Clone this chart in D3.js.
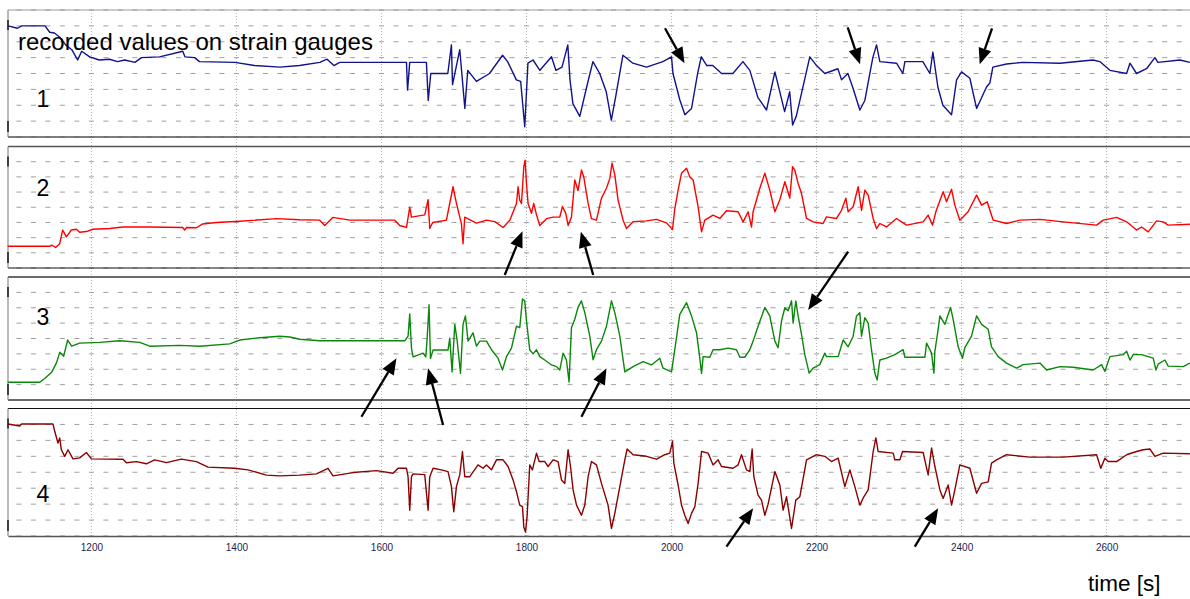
<!DOCTYPE html>
<html>
<head>
<meta charset="utf-8">
<script src="https://cdn.jsdelivr.net/npm/d3@7"></script>
<style>
  body { margin: 0; background: #fff; }
  svg { display: block; font-family: "Liberation Sans", Arial, sans-serif; }
</style>
</head>
<body>
<svg id="chart" width="1190" height="599"></svg>
<script>
// recorded strain gauge values, [time s, value in grid units 0..8]
const gauge1 = [[1085,7.0],[1098,6.85],[1104,7.0],[1129,7.0],[1136,7.0],[1142.5,6.6],[1149,6.55],[1156,6.3],[1164.5,5.8],[1173,5.5],
  [1181,4.85],[1186.6,5.4],[1197.6,5.05],[1211,4.85],[1225,4.9],[1236,4.75],[1246,4.85],[1260,4.7],[1269,5.0],[1294,5.05],
  [1326,5.4],[1329,5.05],[1342.5,5.0],[1349,4.75],[1398,4.7],[1425,4.5],[1460,4.4],[1487,4.5],[1515,4.7],[1525,4.9],
  [1534.5,4.5],[1542.5,4.7],[1597.6,4.7],[1634.5,4.7],[1636,2.95],[1639,4.7],[1662,4.7],[1664.5,2.3],[1668,4.0],[1691.5,4.0],
  [1696.5,5.8],[1698,3.3],[1708,5.5],[1715,1.8],[1719,4.2],[1731,3.5],[1749,4.0],[1767,5.15],[1774,4.75],[1786,3.6],
  [1792,3.5],[1797.6,0.65],[1802,4.65],[1809,4.85],[1818.5,4.2],[1834.5,5.05],[1840.5,4.2],[1849,4.4],[1857,5.8],[1860,3.6],
  [1864,2.1],[1873.5,1.3],[1883,3.15],[1891.6,4.75],[1901,4.0],[1910,2.85],[1917,1.07],[1923,2.55],[1933,5.15],[1946.7,4.65],
  [1965.5,4.4],[1988,4.75],[2000,5.05],[2002,4.0],[2011.5,2.33],[2018.5,1.4],[2027.6,1.8],[2036,4.0],[2041,5.05],[2048.7,4.5],
  [2057,4.5],[2069,4.0],[2084.6,4.0],[2098.5,4.75],[2108,4.2],[2119,2.5],[2131,1.7],[2142.6,4.1],[2156,1.6],[2163,2.85],
  [2167,0.75],[2172,1.3],[2190.7,5.05],[2200,4.5],[2211.4,4.0],[2229.4,4.3],[2234.5,3.6],[2243.2,4.0],[2250.1,3.1],[2259.7,1.7],
  [2266.6,2.3],[2277.6,5.0],[2282.7,5.8],[2287.3,4.75],[2310.3,4.65],[2319,4.0],[2321.8,4.75],[2346.6,4.75],[2356.3,4.0],[2360.4,5.35],
  [2367.3,3.15],[2374.2,2.0],[2386.2,1.4],[2393.1,3.6],[2400,4.1],[2411.4,3.7],[2420.7,1.8],[2434.4,3.15],[2439,3.4],[2443.1,4.4],
  [2462,4.6],[2484.5,4.7],[2535.6,4.65],[2581.1,4.85],[2590.7,4.75],[2604.5,4.2],[2627.6,4.0],[2632.2,4.65],[2641.3,4.0],[2655.1,4.3],
  [2666.6,5.0],[2670.8,4.7],[2701.1,4.85],[2714.8,4.7]];

const gauge2 = [[1084.5,1.43],[1142.5,1.43],[1145.2,1.5],[1150.7,1.35],[1156.3,1.6],[1160.4,2.5],[1165.5,2.05],[1172.4,2.5],[1179.3,2.55],[1183.8,2.35],
  [1193.1,2.4],[1201.8,2.55],[1225.2,2.6],[1243.2,2.7],[1280.4,2.7],[1325.9,2.67],[1328.7,2.5],[1331.4,2.67],[1344.8,2.65],[1353.5,2.9],
  [1372.4,3.0],[1404.5,3.08],[1455.2,3.25],[1487.3,3.18],[1514.9,3.15],[1521.8,2.8],[1532.8,3.33],[1556.3,3.15],[1597.6,3.15],[1618.3,3.15],
  [1625.2,2.8],[1634.5,2.67],[1639,4.0],[1641.4,3.35],[1659.7,3.5],[1664.3,4.5],[1666.6,2.6],[1670.7,3.0],[1689.6,3.15],[1698.7,5.35],
  [1703.4,4.25],[1710.3,2.9],[1712.5,1.6],[1714.9,3.35],[1731,2.95],[1744.8,3.15],[1756.3,3.05],[1767.7,2.67],[1777,3.15],[1786.2,4.25],
  [1788.4,5.35],[1790.7,4.47],[1793.1,4.25],[1796.3,6.67],[1798.1,7.1],[1800,5.55],[1802.2,4.25],[1806.9,3.6],[1810,4.25],[1813.8,3.5],
  [1818.3,2.8],[1827.6,3.25],[1836.7,3.35],[1845.9,3.35],[1849.6,4.05],[1854.2,3.6],[1857.4,2.8],[1862,3.35],[1866.6,5.8],[1871.1,5.1],
  [1875.8,6.45],[1879,6.0],[1885,4.25],[1889.6,3.25],[1896.5,3.15],[1903.4,4.6],[1910.3,5.25],[1914.9,5.9],[1918,6.9],[1921.8,6.13],
  [1926.3,4.47],[1933.2,3.15],[1937.9,2.6],[1947,3.05],[1965.5,3.1],[1979.3,3.2],[1993.1,2.97],[2001.4,2.54],[2004.5,3.9],[2009.1,5.13],
  [2013.8,6.24],[2020.7,6.57],[2025.2,6.0],[2029.8,5.8],[2036.7,4.03],[2041.4,2.38],[2045.9,3.15],[2057.3,3.48],[2066.6,3.26],[2075.8,3.77],
  [2091.8,3.7],[2098.7,3.04],[2105.7,3.7],[2110.3,2.7],[2112.5,3.7],[2121.8,5.25],[2128.7,6.24],[2135.5,5.13],[2142.5,3.7],[2149.4,4.5],
  [2156.3,5.68],[2163.1,4.6],[2166.9,6.67],[2170,6.45],[2174.6,5.57],[2179.2,4.92],[2186.2,3.26],[2195.3,3.04],[2209,2.93],[2213.7,3.37],
  [2227.5,3.26],[2234.4,3.8],[2240.4,4.6],[2243.6,3.7],[2250.5,4.03],[2257.4,5.35],[2262,3.8],[2266.6,5.13],[2271.2,4.8],[2278.1,3.26],
  [2282.7,2.6],[2287.3,2.93],[2296.5,2.7],[2310.3,3.26],[2324.1,2.82],[2347,3.04],[2353.9,3.48],[2360,2.82],[2364.5,3.7],[2374.6,5.02],
  [2379.3,4.36],[2386.2,5.18],[2390.7,4.14],[2397.6,3.15],[2409,3.7],[2420.7,4.8],[2427.6,4.14],[2435.3,4.36],[2443.6,3.15],[2462,2.93],
  [2480.4,3.15],[2508,3.2],[2540.1,3.04],[2586.2,2.82],[2595.3,3.15],[2613.8,3.33],[2627.6,3.04],[2641.3,2.5],[2648.2,2.7],[2657.4,2.38],
  [2668.9,3.1],[2678,3.04],[2684.9,2.82],[2714.8,2.88]];

const gauge3 = [[1084.5,1.15],[1128.7,1.15],[1135.6,1.4],[1145.2,1.8],[1152.1,2.45],[1156.3,3.1],[1161.8,2.85],[1167.3,3.9],[1172.8,3.5],[1183.8,3.7],
  [1211.4,3.75],[1239,3.85],[1266.6,3.75],[1280.4,3.5],[1321.8,3.55],[1349.4,3.5],[1390.7,3.65],[1404.5,3.9],[1432.1,4.05],[1459.7,4.15],
  [1473.5,4.1],[1487.3,3.95],[1514.9,3.85],[1542.5,3.85],[1632.1,3.85],[1636.7,4.15],[1639,5.6],[1641.4,3.37],[1643.6,2.8],[1657.4,3.05],
  [1661.1,2.8],[1662.9,3.9],[1665.6,6.2],[1667.6,2.7],[1671.2,3.25],[1691.8,3.25],[1694.2,4.02],[1697.4,1.83],[1701.1,4.92],[1704.3,3.9],
  [1709,1.73],[1712.5,4.92],[1715.8,5.47],[1719.4,3.83],[1726.3,4.37],[1731,3.5],[1735.6,3.83],[1744.8,3.83],[1751.7,3.27],[1760.8,2.72],
  [1766.9,1.95],[1772.4,2.82],[1779.3,3.37],[1786.2,4.8],[1790.7,4.7],[1794.5,6.57],[1797.6,6.45],[1800,5.15],[1804.5,3.27],[1809.1,3.0],
  [1813.8,3.27],[1818.3,2.82],[1825.2,2.6],[1834.5,2.28],[1841.4,2.17],[1845.9,1.95],[1850.5,3.05],[1855.1,2.6],[1858.7,1.17],[1862,4.7],
  [1866.6,5.25],[1871.1,6.02],[1875.8,6.45],[1880.4,5.68],[1887.3,4.15],[1891.8,2.62],[1896.5,3.27],[1903.4,3.83],[1910.3,4.8],[1917.2,6.45],
  [1921.8,5.68],[1928.7,4.15],[1935.6,1.83],[1947,2.17],[1960.8,2.5],[1972.4,2.28],[1983.8,2.72],[1988.4,2.07],[2000,1.83],[2004.5,3.27],
  [2011.4,5.57],[2020.7,6.33],[2027.6,5.47],[2034.5,4.37],[2039,2.72],[2041.4,1.73],[2043.6,2.82],[2052.8,2.78],[2057.3,3.27],[2066.6,3.27],
  [2078,3.37],[2089.6,3.27],[2094.2,2.78],[2101.1,2.78],[2108,3.27],[2112.5,3.83],[2119.4,4.8],[2128.7,6.02],[2135.5,5.47],[2142.5,3.83],
  [2147,3.4],[2151.7,5.15],[2156.3,6.0],[2160.8,5.8],[2165.5,6.45],[2167.7,5.0],[2171.4,6.45],[2174.6,5.47],[2179.2,4.28],[2183.8,2.97],
  [2189.8,1.75],[2195.3,2.08],[2204.5,2.3],[2211.4,3.05],[2213.7,2.82],[2229.8,2.82],[2236.7,3.9],[2243.6,3.46],[2250.5,4.15],[2255.1,5.47],
  [2259.7,5.68],[2262,4.15],[2266.6,5.36],[2271.2,5.0],[2275.8,3.27],[2280.4,1.75],[2283.6,1.3],[2287.3,2.6],[2296.5,2.72],[2308,2.95],
  [2319.4,3.27],[2321.8,2.78],[2349.4,2.78],[2351.7,3.7],[2358.6,3.05],[2361.8,1.75],[2363.2,3.17],[2367.7,4.6],[2370.1,5.47],[2377,4.92],
  [2380.1,5.36],[2384.8,6.02],[2388.4,5.25],[2395.3,3.46],[2401.3,2.72],[2404.5,3.4],[2413.7,4.15],[2420.7,5.47],[2427.6,4.92],[2436.7,4.6],
  [2441.3,3.46],[2450.5,2.82],[2462,2.4],[2475.8,2.08],[2484.9,2.3],[2508,2.4],[2517.2,1.95],[2535.6,2.17],[2553.9,2.13],[2581.5,1.95],
  [2593.1,2.3],[2597.6,1.85],[2604.5,2.82],[2622.9,2.95],[2627.6,3.17],[2632.2,2.6],[2636.7,2.95],[2648.2,2.95],[2664.3,2.72],[2668,1.95],
  [2671.1,2.33],[2680.4,2.6],[2684.9,2.2],[2705.7,2.17],[2714.8,2.4]];

const gauge4 = [[1085,7.03],[1101.1,6.9],[1103.8,7.03],[1133.2,7.03],[1147,7.03],[1149.4,6.57],[1153.9,5.83],[1156.3,6.15],[1158.6,5.41],[1163.2,5.0],
  [1167.7,5.41],[1174.6,4.84],[1183.8,4.9],[1193.1,5.24],[1200,4.84],[1243.6,4.82],[1248.3,4.6],[1262.1,4.67],[1275.8,4.53],[1287.3,4.78],
  [1303.4,4.6],[1324.1,4.82],[1344.8,4.67],[1360.8,4.32],[1397.6,4.25],[1416,4.15],[1441.4,3.82],[1459.7,3.77],[1487.3,3.82],[1510.3,3.9],
  [1526.3,4.25],[1533.2,3.77],[1560.8,3.98],[1593.1,4.1],[1616,3.94],[1622.9,4.25],[1634.5,4.25],[1636.7,3.72],[1639,1.62],[1641.4,3.72],
  [1643.6,3.9],[1659.7,3.85],[1664.3,1.62],[1666.6,3.72],[1671.2,4.25],[1682.7,4.15],[1691.8,4.04],[1696.5,3.1],[1699.7,1.52],[1703.4,3.1],
  [1708,3.85],[1711.7,5.3],[1714.9,3.72],[1721.8,3.72],[1733.2,4.46],[1740.1,4.25],[1744.8,4.46],[1751.7,4.15],[1758.6,4.78],[1767.7,4.78],
  [1774.6,4.36],[1781.5,3.52],[1786.2,2.78],[1790.7,1.94],[1794.5,1.84],[1796.3,0.57],[1798.6,0.25],[1800.8,1.2],[1804.5,4.46],[1808.2,4.15],
  [1813.8,5.2],[1817.4,4.67],[1825.2,4.67],[1829.8,4.36],[1836.7,4.78],[1843.6,4.67],[1848.3,3.52],[1852.8,3.3],[1857.4,5.41],[1860.7,4.36],
  [1864.3,2.89],[1869,1.94],[1875.8,1.3],[1880.4,1.94],[1885,3.72],[1889.6,4.67],[1896.5,4.46],[1903.4,3.3],[1912.5,1.94],[1917.2,0.47],
  [1921.8,1.42],[1928.7,3.1],[1935.6,4.78],[1938.8,5.46],[1947,5.1],[1965.5,5.0],[1979.3,4.82],[1990.7,5.1],[1997.6,5.2],[2001.4,5.94],
  [2003.2,4.57],[2009.1,3.2],[2013.8,1.94],[2018.3,1.3],[2022.9,0.78],[2027.6,1.42],[2032.1,1.83],[2036.7,3.3],[2041.4,5.3],[2050.5,5.2],
  [2057.3,4.46],[2064.3,4.78],[2068.9,4.36],[2084.9,4.25],[2091.8,4.46],[2096.5,5.1],[2103.4,4.15],[2108,4.04],[2111.2,5.46],[2113.5,3.72],
  [2119.4,2.57],[2124.1,2.25],[2128.7,1.3],[2133.2,2.0],[2142.5,4.04],[2149.4,3.2],[2153.9,1.62],[2158.6,2.46],[2165.5,0.47],[2171.4,2.25],
  [2176.9,2.46],[2186.2,4.78],[2199.9,5.1],[2211.4,5.0],[2220.6,4.67],[2229.8,4.88],[2239,3.1],[2245.9,4.15],[2252.8,3.1],[2259.7,1.94],
  [2265.2,2.46],[2271.2,2.89],[2278.1,5.3],[2281.8,6.15],[2285,5.3],[2305.7,5.2],[2308,4.78],[2314.9,4.78],[2318.6,5.3],[2347,5.24],
  [2353.9,3.83],[2358.6,5.52],[2363.2,4.36],[2370.1,2.89],[2374.6,2.36],[2381.5,3.2],[2386.2,1.94],[2390.7,2.89],[2397.6,4.46],[2411.4,4.25],
  [2420.7,2.68],[2427.6,3.3],[2436.7,3.4],[2441.3,4.57],[2448.2,4.78],[2462,5.1],[2494.2,4.95],[2540.1,4.95],[2586.2,5.1],[2592,4.25],
  [2597.6,4.88],[2602.2,4.67],[2613.8,4.67],[2627.6,5.1],[2641.3,5.3],[2650.6,5.41],[2659.7,5.46],[2666.6,5.0],[2678,5.2],[2714.8,5.16]];

const series = [gauge1, gauge2, gauge3, gauge4];
const seriesColors = ["#12128c", "#ff0000", "#0b870b", "#8b0000"];
const panelLabels = ["1", "2", "3", "4"];
const xTicks = [1200, 1400, 1600, 1800, 2000, 2200, 2400, 2600];

// arrows: panel index, tail [t, v], tip [t, v]
const arrows = [
  {panel: 0, from: [1991, 6.85], to: [2018, 4.64]},
  {panel: 0, from: [2243, 6.91], to: [2260, 4.58]},
  {panel: 0, from: [2442, 6.85], to: [2425, 4.58]},
  {panel: 1, from: [1770, -0.46], to: [1794.5, 2.42]},
  {panel: 1, from: [1892, -0.46], to: [1875, 2.39]},
  {panel: 2, from: [2243.6, 9.65], to: [2188.4, 5.85]},
  {panel: 2, from: [1572.4, -1.09], to: [1620.7, 2.71]},
  {panel: 2, from: [1685, -1.63], to: [1664.3, 2.06]},
  {panel: 2, from: [1875.8, -1.09], to: [1910.3, 2.06]},
  {panel: 3, from: [2075.8, -0.67], to: [2112.6, 1.74]},
  {panel: 3, from: [2335.5, -0.67], to: [2367.7, 1.74]}
];

const left = 8, right = 1190;
const panelBox = [[10, 137], [146.5, 268], [277, 400], [408.5, 536]];

const svg = d3.select("#chart");

const x = d3.scaleLinear().domain([1085, 2715]).range([left, right]);
const ys = panelBox.map(b => d3.scaleLinear().domain([0, 8]).range([b[1], b[0]]));

// vertical dotted gridlines at the major ticks
svg.append("g").selectAll("line")
  .data(xTicks)
  .join("line")
  .attr("x1", d => x(d)).attr("x2", d => x(d))
  .attr("y1", panelBox[0][0]).attr("y2", panelBox[3][1])
  .attr("stroke", "#b4b4b4")
  .attr("stroke-width", 1)
  .attr("stroke-dasharray", "1,2");

// short horizontal dashes every 20 s on each grid level
const minor = d3.range(1100, 2716, 20);
panelBox.forEach((b, i) => {
  const g = svg.append("g");
  d3.range(0, 9).forEach(level => {
    g.selectAll(null)
      .data(minor)
      .join("line")
      .attr("x1", d => x(d) - 2.5).attr("x2", d => x(d) + 2.5)
      .attr("y1", ys[i](level)).attr("y2", ys[i](level))
      .attr("stroke", "#a0a0a0")
      .attr("stroke-width", 1);
  });
});

// panel frames
const frame = svg.append("g");
frame.append("line").attr("x1", left).attr("x2", right).attr("y1", 10).attr("y2", 10)
  .attr("stroke", "#9a9a9a").attr("stroke-width", 1);
const rules = [[137, "#555", 1.6], [146.5, "#555", 1.6], [268, "#111", 1.2], [277, "#6a6a6a", 2],
  [400, "#6a6a6a", 2], [408.5, "#111", 1.2]];
rules.forEach(r => {
  frame.append("line").attr("x1", left).attr("x2", right).attr("y1", r[0]).attr("y2", r[0])
    .attr("stroke", r[1]).attr("stroke-width", r[2]);
});
panelBox.forEach(b => {
  frame.append("line").attr("x1", left).attr("x2", left).attr("y1", b[0]).attr("y2", b[1])
    .attr("stroke", "#8a8a8a").attr("stroke-width", 1.2);
  frame.append("line").attr("x1", left).attr("x2", left).attr("y1", b[0] + 10).attr("y2", b[0] + 20)
    .attr("stroke", "#222").attr("stroke-width", 1.6);
  frame.append("line").attr("x1", left).attr("x2", left).attr("y1", b[1] - 16).attr("y2", b[1] - 5)
    .attr("stroke", "#222").attr("stroke-width", 1.6);
});

// traces
series.forEach((data, i) => {
  const line = d3.line().x(d => x(d[0])).y(d => ys[i](d[1]));
  svg.append("path")
    .datum(data)
    .attr("d", line)
    .attr("fill", "none")
    .attr("stroke", seriesColors[i])
    .attr("stroke-width", 1.4)
    .attr("stroke-linejoin", "round");
});

// bottom time axis
const axis = svg.append("g")
  .attr("transform", `translate(0,${panelBox[3][1]})`)
  .call(d3.axisBottom(x).tickValues(xTicks).tickSize(0).tickPadding(8).tickFormat(d3.format("d")));
axis.select(".domain").attr("stroke", "#555").attr("stroke-width", 1.6);
axis.selectAll("text")
  .attr("font-size", 10)
  .attr("fill", "#1c2450")
  .attr("font-family", "Liberation Sans, Arial, sans-serif");

// panel numbers
const numY = [107, 196, 325, 502];
svg.append("g").selectAll("text")
  .data(panelLabels)
  .join("text")
  .attr("x", 43)
  .attr("y", (d, i) => numY[i])
  .attr("text-anchor", "middle")
  .attr("font-size", 23)
  .attr("fill", "#000")
  .text(d => d);

svg.append("text")
  .attr("x", 18).attr("y", 50)
  .attr("font-size", 24)
  .attr("fill", "#000")
  .text("recorded values on strain gauges");

svg.append("text")
  .attr("x", 1088).attr("y", 591)
  .attr("font-size", 22.5)
  .attr("fill", "#000")
  .text("time [s]");

// arrows
const ag = svg.append("g");
arrows.forEach(a => {
  const x1 = x(a.from[0]), y1 = ys[a.panel](a.from[1]);
  const x2 = x(a.to[0]), y2 = ys[a.panel](a.to[1]);
  const ang = Math.atan2(y2 - y1, x2 - x1);
  const len = 16, half = 6.5;
  const bx = x2 - len * Math.cos(ang), by = y2 - len * Math.sin(ang);
  ag.append("line")
    .attr("x1", x1).attr("y1", y1).attr("x2", bx).attr("y2", by)
    .attr("stroke", "#000").attr("stroke-width", 2.3);
  const pts = [
    [x2, y2],
    [bx + half * Math.sin(ang), by - half * Math.cos(ang)],
    [bx - half * Math.sin(ang), by + half * Math.cos(ang)]
  ];
  ag.append("polygon")
    .attr("points", pts.map(p => p.join(",")).join(" "))
    .attr("fill", "#000");
});
</script>
</body>
</html>
